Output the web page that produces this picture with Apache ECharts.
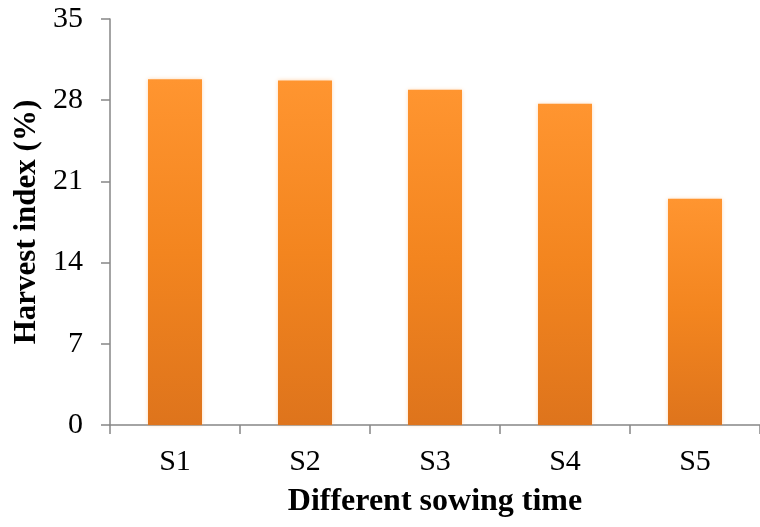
<!DOCTYPE html>
<html>
<head>
<meta charset="utf-8">
<script src="https://cdn.jsdelivr.net/npm/echarts@6/dist/echarts.min.js"></script>
<style>
  html, body { margin: 0; padding: 0; background: #ffffff; }
  #chart { width: 760px; height: 527px; }
</style>
</head>
<body>
<div id="chart"></div>
<script>
// Sowing time treatments and their harvest index (%)
const sowingTimes = ['S1', 'S2', 'S3', 'S4', 'S5'];
const harvestIndex = [29.8, 29.7, 28.9, 27.7, 19.5];
const yTicks = { min: 0, max: 35, interval: 7 };

const chart = echarts.init(document.getElementById('chart'));
const serif = '"Liberation Serif", "Times New Roman", serif';
const axisGrey = '#868686';

chart.setOption({
  animation: false,
  backgroundColor: '#ffffff',
  grid: { left: 110, right: -8, top: 19, bottom: 102, containLabel: false },
  xAxis: {
    type: 'category',
    data: sowingTimes,
    name: 'Different sowing time',
    nameLocation: 'middle',
    nameGap: 61,
    nameTextStyle: { fontFamily: serif, fontSize: 32, fontWeight: 'bold', color: '#000' },
    axisLine: { lineStyle: { color: axisGrey, width: 1.5 } },
    axisTick: { show: true, length: 9, lineStyle: { color: axisGrey, width: 1.5 } },
    axisLabel: { fontFamily: serif, fontSize: 30, color: '#000', margin: 22 }
  },
  yAxis: {
    type: 'value',
    min: yTicks.min,
    max: yTicks.max,
    interval: yTicks.interval,
    name: 'Harvest index (%)',
    nameLocation: 'middle',
    nameGap: 68,
    nameTextStyle: { fontFamily: serif, fontSize: 31, fontWeight: 'bold', color: '#000' },
    axisLine: { show: true, lineStyle: { color: axisGrey, width: 1.5 } },
    axisTick: { show: true, length: 9, lineStyle: { color: axisGrey, width: 1.5 } },
    axisLabel: { fontFamily: serif, fontSize: 30, color: '#000', margin: 27 },
    splitLine: { show: false }
  },
  series: [{
    type: 'bar',
    data: harvestIndex,
    barWidth: 54,
    itemStyle: {
      color: new echarts.graphic.LinearGradient(0, 0, 0, 1, [
        { offset: 0, color: '#FF9530' },
        { offset: 0.5, color: '#F3851F' },
        { offset: 1, color: '#DE741C' }
      ]),
      shadowColor: 'rgba(255, 170, 90, 0.45)',
      shadowBlur: 4
    }
  }]
});
</script>
</body>
</html>
